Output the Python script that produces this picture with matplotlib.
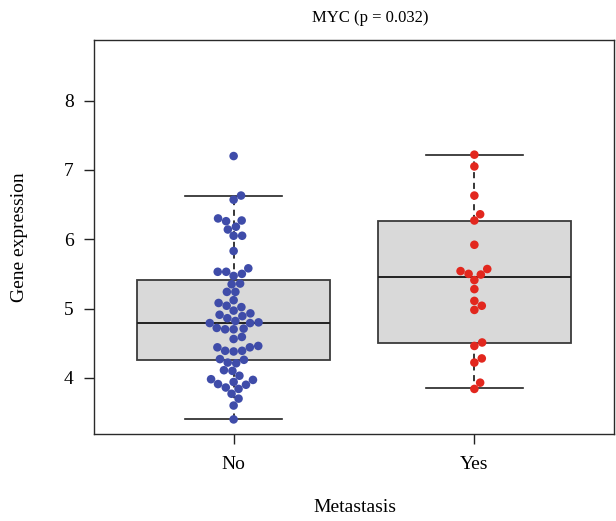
import matplotlib
matplotlib.use('Agg')
import matplotlib.pyplot as plt
import numpy as np

plt.rcParams['font.family'] = ['Liberation Serif', 'DejaVu Serif']

groups = ['No', 'Yes']
no_values = [7.20, 6.63, 6.57, 6.30, 6.27, 6.26, 6.18, 6.14, 6.05, 6.05, 5.83,
             5.58, 5.53, 5.53, 5.50, 5.47, 5.36, 5.35, 5.24, 5.24, 5.12, 5.08,
             5.04, 5.02, 4.97, 4.93, 4.91, 4.89, 4.86, 4.82, 4.80, 4.79, 4.79,
             4.72, 4.71, 4.70, 4.70, 4.59, 4.56, 4.46, 4.44, 4.44, 4.39, 4.39,
             4.38, 4.27, 4.26, 4.22, 4.21, 4.11, 4.10, 4.03, 3.98, 3.97, 3.94,
             3.91, 3.90, 3.86, 3.84, 3.77, 3.70, 3.60, 3.40]
yes_values = [7.22, 7.05, 6.63, 6.36, 6.27, 5.92, 5.57, 5.54, 5.50, 5.49, 5.41,
              5.28, 5.11, 5.04, 4.98, 4.51, 4.46, 4.28, 4.22, 3.93, 3.84]

# box statistics
box_low = [3.40, 3.85]
box_q1 = [4.26, 4.50]
box_med = [4.79, 5.46]
box_q3 = [5.41, 6.27]
box_high = [6.63, 7.22]

colors = ['#3F4CA9', '#E2271E']

fig = plt.figure(figsize=(6.16, 5.21), dpi=100)
ax = fig.add_axes([94 / 616, 1 - 434 / 521, 520 / 616, 394 / 521])

positions = [1, 2]
stats = []
for i in range(2):
    stats.append(dict(med=box_med[i], q1=box_q1[i], q3=box_q3[i],
                      whislo=box_low[i], whishi=box_high[i], fliers=[]))
ax.bxp(stats, positions=positions, widths=0.8, showfliers=False,
       patch_artist=True, capwidths=0.4,
       boxprops=dict(facecolor='#d9d9d9', edgecolor='#3a3a3a', linewidth=1.3),
       whiskerprops=dict(linestyle=(0, (4, 3)), color='black', linewidth=1.1),
       capprops=dict(color='#222222', linewidth=1.2),
       medianprops=dict(color='#222222', linewidth=1.4))

allv = np.array(no_values + yes_values)
a, b = allv.min(), allv.max() * 1.2
ext = 0.04 * (b - a)
ax.set_ylim(a - ext, b + ext)
ax.set_xlim(0.42, 2.58)


def swarm(values, xc, d):
    values = np.asarray(values, dtype=float)
    n = len(values)
    ypx = ax.transData.transform(np.column_stack([np.full(n, xc), values]))[:, 1]
    order = np.argsort(values, kind='stable')
    placed = []
    offs = np.zeros(n)
    for i in order:
        y = ypx[i]
        cands = [0.0]
        for xo, yo in placed:
            dy = abs(y - yo)
            if dy < d:
                dx = np.sqrt(d * d - dy * dy)
                cands += [xo + dx, xo - dx]
        valid = [c for c in cands
                 if all((c - xo) ** 2 + (y - yo) ** 2 >= d * d - 1e-6 for xo, yo in placed)]
        best = min(valid, key=lambda c: (round(abs(c), 6), -c))
        offs[i] = best
        placed.append((best, y))
    x0 = ax.transData.transform((xc, 0))[0]
    xd = ax.transData.inverted().transform(np.column_stack([x0 + offs, ypx]))[:, 0]
    return xd, values


for pos, vals, col in zip(positions, [no_values, yes_values], colors):
    xs, ys = swarm(vals, pos, 8.5)
    ax.scatter(xs, ys, s=38, color=col, edgecolors='none', zorder=5)

ax.set_yticks([4, 5, 6, 7, 8])
ax.set_xticks(positions)
ax.set_xticklabels(groups)
ax.tick_params(axis='both', direction='out', length=7.5, width=1.0,
               labelsize=14, color='#222222', pad=7)
ax.tick_params(axis='x', pad=8)
for s in ax.spines.values():
    s.set_color('#2a2a2a')
    s.set_linewidth(1.0)

fig.text(370 / 616, 1 - 18 / 521, 'MYC (p = 0.032)', ha='center', va='center', fontsize=12)
fig.text(20 / 616, 1 - 237 / 521, 'Gene expression', ha='center', va='center',
         rotation=90, fontsize=14)
fig.text(355 / 616, 1 - 508 / 521, 'Metastasis', ha='center', va='center', fontsize=14)

fig.savefig('out.png', dpi=100)
